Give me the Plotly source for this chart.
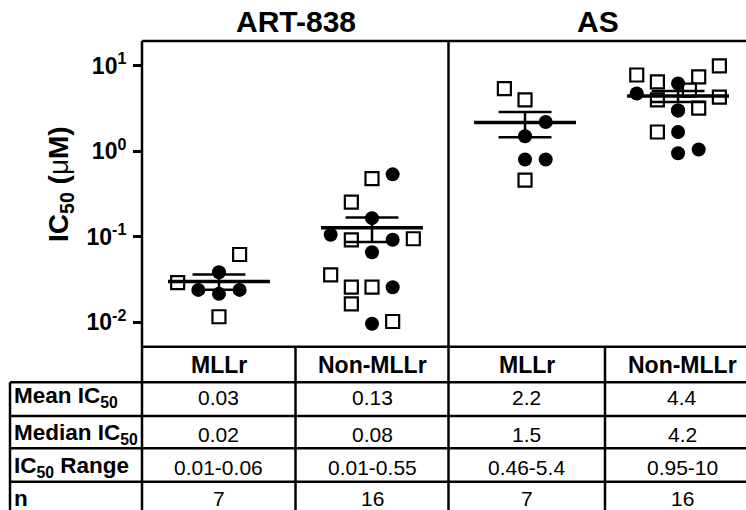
import numpy as np
import plotly.graph_objects as go

W, H = 746, 510

# ---------------- data ----------------
drugs = ["ART-838", "AS"]
groups = ["MLLr", "Non-MLLr", "MLLr", "Non-MLLr"]

# IC50 values (uM): open squares / filled circles for each group
art_mllr_sq = [0.062, 0.029, 0.0116]
art_mllr_ci = [0.0385, 0.0239, 0.0215, 0.0239]
art_non_sq = [0.479, 0.2545, 0.0922, 0.0948, 0.0359, 0.0257, 0.0257, 0.0164, 0.0102]
art_non_ci = [0.537, 0.165, 0.1055, 0.0922, 0.066, 0.0257, 0.0096]
as_mllr_sq = [5.4, 4.0, 0.46]
as_mllr_ci = [2.2, 1.5, 0.8, 0.8]
as_non_sq = [10.0, 7.8, 6.5, 7.4, 4.0, 5.2, 4.3, 3.2, 1.68]
as_non_ci = [6.2, 4.75, 3.0, 3.0, 1.68, 0.95, 1.05]

# horizontal jitter of each dot, in dot-widths
art_mllr_sq_off = [1, -2, 0]
art_mllr_ci_off = [0, -1, 0, 1]
art_non_sq_off = [0, -1, -1, 2, -2, -1, 0, -1, 1]
art_non_ci_off = [1, 0, -2, 1, 0, 1, 0]
as_mllr_sq_off = [-1, 0, 0]
as_mllr_ci_off = [1, 0, 0, 1]
as_non_sq_off = [2, -2, -1, 1, -1, 0.55, 2, 1, -1]
as_non_ci_off = [0, -2, 0, 0, 0, 0, 1]

ytick_vals = [0.01, 0.1, 1, 10]
ytick_text = ["<b>10<sup>-2</sup></b>", "<b>10<sup>-1</sup></b>",
              "<b>10<sup>0</sup></b>", "<b>10<sup>1</sup></b>"]

row_labels = ["Mean IC<sub>50</sub>", "Median IC<sub>50</sub>", "IC<sub>50</sub> Range", "n"]
mean_txt = ["0.03", "0.13", "2.2", "4.4"]
median_txt = ["0.02", "0.08", "1.5", "4.2"]
range_txt = ["0.01-0.06", "0.01-0.55", "0.46-5.4", "0.95-10"]
n_txt = ["7", "16", "7", "16"]

# ---------------- figure ----------------
FONT = "Liberation Sans, Arial, sans-serif"
STEP = 0.135       # dot width in category units
MEAN_HW = 0.333
SEM_HW = 0.173

squares = [(art_mllr_sq, art_mllr_sq_off), (art_non_sq, art_non_sq_off),
           (as_mllr_sq, as_mllr_sq_off), (as_non_sq, as_non_sq_off)]
circles = [(art_mllr_ci, art_mllr_ci_off), (art_non_ci, art_non_ci_off),
           (as_mllr_ci, as_mllr_ci_off), (as_non_ci, as_non_ci_off)]

fig = go.Figure()

for g, ((sv, so), (cv, co)) in enumerate(zip(squares, circles)):
    fig.add_trace(go.Scatter(
        x=[g + o * STEP for o in so], y=sv, mode="markers",
        marker=dict(symbol="square", size=13, color="white",
                    line=dict(color="black", width=2.2)),
        showlegend=False, hoverinfo="y"))
    fig.add_trace(go.Scatter(
        x=[g + o * STEP for o in co], y=cv, mode="markers",
        marker=dict(symbol="circle", size=14, color="black",
                    line=dict(color="black", width=0)),
        showlegend=False, hoverinfo="y"))

# mean +/- SEM lines
mx, my, sx, sy = [], [], [], []
for g, ((sv, _), (cv, _)) in enumerate(zip(squares, circles)):
    vals = np.array(sv + cv, dtype=float)
    m = vals.mean()
    sem = vals.std(ddof=1) / np.sqrt(len(vals))
    mx += [g - MEAN_HW, g + MEAN_HW, None]
    my += [m, m, None]
    sx += [g - SEM_HW, g + SEM_HW, None, g - SEM_HW, g + SEM_HW, None, g, g, None]
    sy += [m + sem, m + sem, None, m - sem, m - sem, None, m - sem, m + sem, None]

fig.add_trace(go.Scatter(x=sx, y=sy, mode="lines", line=dict(color="black", width=2.5),
                         showlegend=False, hoverinfo="skip"))
fig.add_trace(go.Scatter(x=mx, y=my, mode="lines", line=dict(color="black", width=3.5),
                         showlegend=False, hoverinfo="skip"))


def px(x):
    return x / W


def py(y):
    return 1 - y / H


LW = 2.5
shapes = []


def hline(y, x0, x1):
    shapes.append(dict(type="line", xref="paper", yref="paper", x0=px(x0), x1=px(x1),
                       y0=py(y), y1=py(y), line=dict(color="black", width=LW)))


def vline(x, y0, y1):
    shapes.append(dict(type="line", xref="paper", yref="paper", x0=px(x), x1=px(x),
                       y0=py(y0), y1=py(y1), line=dict(color="black", width=LW)))


PLOT_TOP, PLOT_BOT = 41, 346.7
col_edges = [142, 295.5, 448.5, 605, 760]
row_edges = [346.7, 382.3, 416, 448.3, 481.7, 520]

hline(PLOT_TOP, 142, 760)
hline(row_edges[0], 142, 760)
for y in row_edges[1:5]:
    hline(y, 10, 760)
vline(142, PLOT_TOP, 520)
vline(448.5, PLOT_TOP, 520)
vline(295.5, row_edges[0], 520)
vline(605, row_edges[0], 520)
vline(10, row_edges[1], 520)

ann = []


def text(x, y, s, size=21, bold=False, xanchor="center"):
    ann.append(dict(x=px(x), y=py(y), xref="paper", yref="paper", showarrow=False,
                    text=f"<b>{s}</b>" if bold else s, xanchor=xanchor, yanchor="middle",
                    font=dict(family=FONT, size=size, color="black")))


# panel titles
text(296, 22, drugs[0], size=30, bold=True)
text(598, 22, drugs[1], size=30, bold=True)

# y-axis title
ann.append(dict(x=px(60), y=py(184), xref="paper", yref="paper", showarrow=False,
                text="<b>IC<sub>50</sub> (</b>μ<b>M)</b>", textangle=-90,
                xanchor="center", yanchor="middle",
                font=dict(family=FONT, size=28, color="black")))

col_centers = [(col_edges[i] + col_edges[i + 1]) / 2 for i in range(4)]
col_centers[3] = 682

for c, gname in zip(col_centers, groups):
    text(c, 365, gname, size=23, bold=True)

row_centers = [397, 434, 467, 498]
for r, lab in zip(row_centers, row_labels):
    text(12, r, lab, size=22.5, bold=True, xanchor="left")

for rows_vals, r in zip([mean_txt, median_txt, range_txt, n_txt], row_centers):
    for c, v in zip(col_centers, rows_vals):
        text(c, r, v, size=21)

fig.update_layout(
    width=W, height=H, margin=dict(l=0, r=0, t=0, b=0),
    paper_bgcolor="white", plot_bgcolor="white",
    shapes=shapes, annotations=ann,
    xaxis=dict(domain=[142 / W, 1], range=[-0.503, 3.444], showgrid=False,
               zeroline=False, showticklabels=False, ticks="", showline=False),
    yaxis=dict(domain=[1 - PLOT_BOT / H, 1 - PLOT_TOP / H], type="log",
               range=[-2.286, 1.290], showgrid=False, zeroline=False,
               tickvals=ytick_vals, ticktext=ytick_text, ticks="outside",
               ticklen=8, tickwidth=2.5, tickcolor="black", showline=False,
               tickfont=dict(family=FONT, size=23, color="black"), ticklabelstandoff=2),
    font=dict(family=FONT),
)

fig.write_html("out.html",
               config={"displayModeBar": False},
               post_script="document.body.style.margin='0px';"
                           "document.body.style.overflow='hidden';")
